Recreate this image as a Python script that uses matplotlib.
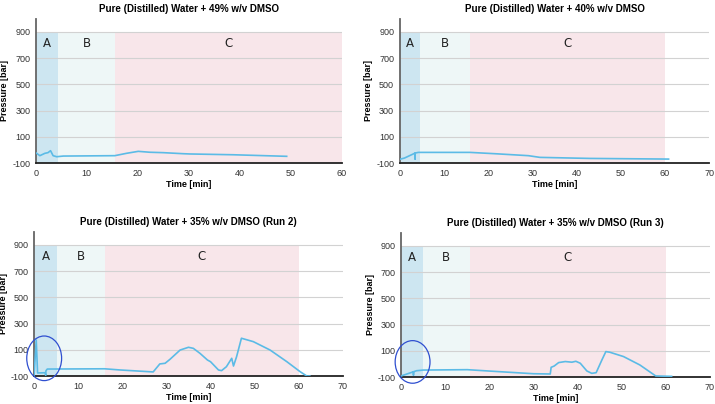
import matplotlib
matplotlib.use("Agg")
import matplotlib.pyplot as plt
from matplotlib.patches import Ellipse

plt.rcParams['font.family'] = ['Liberation Sans', 'DejaVu Sans']
plt.rcParams['axes.unicode_minus'] = False

# ---- data ----
titles = [
    "Pure (Distilled) Water + 49% w/v DMSO",
    "Pure (Distilled) Water + 40% w/v DMSO",
    "Pure (Distilled) Water + 35% w/v DMSO (Run 2)",
    "Pure (Distilled) Water + 35% w/v DMSO (Run 3)",
]

t_49 = [0, 0.8, 1.8, 2.4, 2.9, 3.4, 4.1, 5.4, 15.5, 17.8, 20.1, 22.4, 25.0,
        28.9, 30.2, 38.7, 49.2]
p_49 = [-21, -44, -26, -21, -6, -44, -52, -47, -44, -26, -11, -18, -21,
        -29, -31, -37, -49]

t_40 = [0, 0.2, 1.1, 3.5, 3.5, 3.5, 4.2, 15.9, 21.5, 29.1, 31.7, 43.0, 60.8]
p_40 = [-72, -70, -62, -24, -70, -24, -19, -19, -29, -44, -57, -65, -70]

t_run2 = [0, 0.5, 0.8, 2.5, 2.65, 2.7, 3.0, 16.0, 19.5, 27.0, 28.5, 29.7,
          30.8, 33.1, 35.0, 36.1, 37.6, 39.3, 40.0, 41.8, 42.5, 43.6, 44.8,
          45.2, 45.9, 47.0, 49.7, 53.5, 57.3, 60.3, 61.8, 62.5]
p_run2 = [-100, 175, -77, -75, -95, -60, -47, -45, -54, -69, -8, -3,
          27, 98, 119, 111, 73, 22, 9, -54, -59, -29, 35,
          -24, 47, 188, 162, 98, 9, -67, -100, -100]

t_run3 = [0, 2.8, 2.8, 2.8, 3.5, 5.0, 15.0, 20.2, 30.0, 33.8, 34.0, 34.7,
          35.7, 37.2, 38.7, 39.6, 40.6, 42.1, 43.2, 44.2, 45.5, 46.4, 47.3,
          50.4, 54.1, 57.7, 61.3]
p_run3 = [-92, -60, -85, -60, -52, -47, -44, -55, -75, -77, -26, -16,
          10, 18, 13, 20, 5, -54, -72, -67, 30, 94, 89,
          56, -8, -92, -95]

series = [(t_49, p_49), (t_40, p_40), (t_run2, p_run2), (t_run3, p_run3)]
x_max = [60, 70, 70, 70]
# phase boundaries A | B | C
phases = [
    (4.4, 15.5, 60),
    (4.7, 15.8, 60),
    (5.3, 16.0, 60),
    (5.0, 15.5, 60),
]
# circled start-up region (center x, center y, width, height), None = no circle
circles = [None, None, (2.3, 35, 7.9, 340), (2.6, 15, 7.9, 325)]

phase_colors = ['#cde6f1', '#eef7f7', '#f8e6ea']
line_color = '#5bbbe6'

positions = [
    [0.050, 0.5965, 0.428, 0.357],
    [0.559, 0.5965, 0.433, 0.357],
    [0.0476, 0.0693, 0.432, 0.357],
    [0.561, 0.0668, 0.432, 0.357],
]

fig = plt.figure(figsize=(7.15, 4.04), dpi=100)

for i in range(4):
    ax = fig.add_axes(positions[i])
    a_end, b_end, c_end = phases[i]
    bounds = [0, a_end, b_end, c_end]
    for k in range(3):
        ax.fill_betweenx([-100, 900], bounds[k], bounds[k + 1],
                         color=phase_colors[k], lw=0, zorder=0)
        ax.text((bounds[k] + bounds[k + 1]) / 2, 815, "ABC"[k],
                ha='center', va='center', fontsize=8.5,
                family='DejaVu Sans', color='#222222', zorder=3)

    for g in [100, 300, 500, 700, 900]:
        ax.axhline(g, color='#d2d2d2', lw=0.8, zorder=1)

    t, p = series[i]
    ax.plot(t, p, color=line_color, lw=1.2, zorder=4)

    if circles[i] is not None:
        cx, cy, w, h = circles[i]
        ax.add_patch(Ellipse((cx, cy), w, h, fill=False, ec='#2f4fd0',
                             lw=0.9, zorder=5, clip_on=False))

    ax.set_xlim(0, x_max[i])
    ax.set_ylim(-100, 1000)
    ax.set_xticks(range(0, x_max[i] + 1, 10))
    ax.set_yticks([-100, 100, 300, 500, 700, 900])
    ax.tick_params(length=0, labelsize=6.5, colors='#333333', pad=4)
    for s in ['top', 'right']:
        ax.spines[s].set_visible(False)
    ax.spines['left'].set_color('#666666')
    ax.spines['left'].set_linewidth(1.3)
    ax.spines['bottom'].set_color('#222222')
    ax.spines['bottom'].set_linewidth(1.3)
    ax.set_xlabel("Time [min]", fontsize=6.5, fontweight='bold', labelpad=2)
    ax.set_ylabel("Pressure [bar]", fontsize=6.5, fontweight='bold', labelpad=2)
    ax.set_title(titles[i], fontsize=7, fontweight='bold', pad=5)

fig.savefig("out.png", dpi=100)
